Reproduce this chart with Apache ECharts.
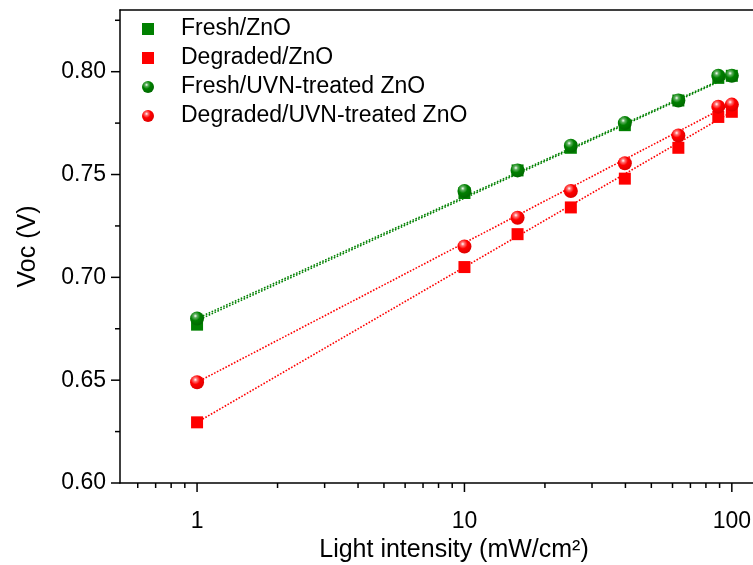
<!DOCTYPE html>
<html>
<head>
<meta charset="utf-8">
<script src="https://cdn.jsdelivr.net/npm/echarts@6/dist/echarts.min.js"></script>
<style>
  html, body { margin: 0; padding: 0; background: #fff; }
  #chart { width: 753px; height: 565px; }
</style>
</head>
<body>
<div id="chart"></div>
<script>
// Light intensity (mW/cm2) and measured open-circuit voltage (V)
const intensity   = [1, 10, 15.8, 25, 39.8, 63.1, 89, 100];
const freshZnO    = [0.677, 0.741, 0.752, 0.763, 0.774, 0.786, 0.797, 0.798];
const degradedZnO = [0.6295, 0.705, 0.721, 0.734, 0.748, 0.763, 0.778, 0.7805];
const freshUVN    = [0.680, 0.742, 0.752, 0.764, 0.775, 0.786, 0.798, 0.798];
const degradedUVN = [0.649, 0.715, 0.729, 0.742, 0.7555, 0.769, 0.783, 0.784];

// Linear fits (Voc vs log intensity): values at the two ends of the fitted range
const fitRange       = [1, 100];
const fitFreshZnO    = [0.679, 0.798];
const fitDegradedZnO = [0.6295, 0.7805];
const fitFreshUVN    = [0.680, 0.7985];
const fitDegradedUVN = [0.649, 0.7845];

const seriesNames = ['Fresh/ZnO', 'Degraded/ZnO', 'Fresh/UVN-treated ZnO', 'Degraded/UVN-treated ZnO'];

// Axis ticks
const xMajorTicks = [1, 10, 100];
const xMinorTicks = [0.6, 0.7, 0.8, 0.9, 2, 3, 4, 5, 6, 7, 8, 9, 20, 30, 40, 50, 60, 70, 80, 90];
const yMajorTicks = [0.60, 0.65, 0.70, 0.75, 0.80];
const yMinorTicks = [0.625, 0.675, 0.725, 0.775, 0.825];

const X_MIN = 0.515, X_MAX = 120;
const Y_MIN = 0.60, Y_MAX = 0.83;

const GREEN = '#008000';
const RED = '#ff0000';
const FONT = 'Liberation Sans, Arial, sans-serif';

function pairs(xs, ys) { return xs.map((x, i) => [x, ys[i]]); }

function sphere(base, light, dark) {
  return {
    type: 'radial', x: 0.38, y: 0.32, r: 0.75,
    colorStops: [
      { offset: 0, color: '#ffffff' },
      { offset: 0.18, color: light },
      { offset: 0.45, color: base },
      { offset: 1, color: dark }
    ]
  };
}

function fitLine(name, values, color) {
  return {
    name: name, type: 'line', symbol: 'none', silent: true,
    xAxisIndex: 0,
    data: pairs(fitRange, values),
    lineStyle: { color: color, width: 1.6, type: [1.6, 1.6] },
    z: 1
  };
}

const tickStyle = { stroke: '#000', lineWidth: 1.5 };
const axisLineStyle = { color: '#000', width: 1.5 };

const chart = echarts.init(document.getElementById('chart'), null, { renderer: 'canvas' });

chart.setOption({
  animation: false,
  backgroundColor: '#fff',
  grid: {
    left: 120, top: 10, right: 0, bottom: 82, show: false,
    containLabel: false, outerBoundsMode: 'none'
  },
  legend: {
    orient: 'vertical', left: 142, top: 17, padding: 0,
    itemWidth: 56, itemHeight: 12, itemGap: 5,
    textStyle: { fontFamily: FONT, fontSize: 23, color: '#000', lineHeight: 24 },
    data: [
      { name: seriesNames[0], icon: 'path://M0,0h10v10h-10z' },
      { name: seriesNames[1], icon: 'path://M0,0h10v10h-10z' },
      { name: seriesNames[2], icon: 'circle' },
      { name: seriesNames[3], icon: 'circle' }
    ]
  },
  xAxis: [
    {
      type: 'log', logBase: 10, min: X_MIN, max: X_MAX, position: 'bottom',
      name: 'Light intensity (mW/cm\u00B2)',
      nameLocation: 'middle', nameGap: 51,
      nameTextStyle: { fontFamily: FONT, fontSize: 25, color: '#000', padding: [0, 0, 0, 35] },
      axisLine: { show: true, lineStyle: axisLineStyle },
      axisTick: { show: false },
      minorTick: { show: false },
      splitLine: { show: false },
      axisLabel: {
        margin: 27, fontFamily: FONT, fontSize: 23, color: '#000',
        showMinLabel: false, showMaxLabel: false,
        formatter: function (v) {
          const e = Math.log10(v);
          return Math.abs(e - Math.round(e)) < 1e-6 ? String(Math.round(v)) : '';
        }
      }
    },
    {
      // frame line along the top of the plot
      type: 'value', min: 0, max: 1, position: 'top',
      axisLine: { show: true, onZero: false, lineStyle: axisLineStyle },
      axisTick: { show: false }, axisLabel: { show: false }, splitLine: { show: false }
    }
  ],
  yAxis: {
    type: 'value', min: Y_MIN, max: Y_MAX, interval: 0.05,
    name: 'Voc (V)', nameLocation: 'middle', nameGap: 79,
    nameTextStyle: { fontFamily: FONT, fontSize: 25, color: '#000' },
    axisLine: { show: true, lineStyle: axisLineStyle },
    axisTick: { show: false },
    splitLine: { show: false },
    axisLabel: {
      margin: 14, fontFamily: FONT, fontSize: 23, color: '#000',
      formatter: function (v) {
        return Math.abs(v * 20 - Math.round(v * 20)) < 1e-6 ? v.toFixed(2) : '';
      }
    }
  },
  series: [
    fitLine('fit-fresh-zno', fitFreshZnO, GREEN),
    fitLine('fit-fresh-uvn', fitFreshUVN, GREEN),
    fitLine('fit-degraded-zno', fitDegradedZnO, RED),
    fitLine('fit-degraded-uvn', fitDegradedUVN, RED),
    {
      name: seriesNames[0], type: 'scatter', symbol: 'rect', symbolSize: 12,
      data: pairs(intensity, freshZnO), itemStyle: { color: GREEN, opacity: 1 }, z: 3
    },
    {
      name: seriesNames[1], type: 'scatter', symbol: 'rect', symbolSize: 12,
      data: pairs(intensity, degradedZnO), itemStyle: { color: RED, opacity: 1 }, z: 3
    },
    {
      name: seriesNames[2], type: 'scatter', symbol: 'circle', symbolSize: 14,
      data: pairs(intensity, freshUVN), itemStyle: { color: sphere(GREEN, '#5fb05f', '#006400'), opacity: 1 }, z: 4
    },
    {
      name: seriesNames[3], type: 'scatter', symbol: 'circle', symbolSize: 14,
      data: pairs(intensity, degradedUVN), itemStyle: { color: sphere(RED, '#ff7070', '#d80000'), opacity: 1 }, z: 4
    },
    // ticks on the bottom axis (pointing outward)
    {
      type: 'custom', coordinateSystem: 'cartesian2d', clip: false, silent: true, z: 6,
      data: xMajorTicks.map(v => [v, Y_MIN, 1]).concat(xMinorTicks.map(v => [v, Y_MIN, 0])),
      renderItem: function (params, api) {
        const p = api.coord([api.value(0), api.value(1)]);
        const len = api.value(2) ? 9 : 5;
        return { type: 'line', shape: { x1: p[0], y1: p[1], x2: p[0], y2: p[1] + len }, style: tickStyle };
      }
    },
    // ticks on the left axis (pointing outward)
    {
      type: 'custom', coordinateSystem: 'cartesian2d', clip: false, silent: true, z: 6,
      data: yMajorTicks.map(v => [X_MIN, v, 1]).concat(yMinorTicks.map(v => [X_MIN, v, 0])),
      renderItem: function (params, api) {
        const p = api.coord([api.value(0), api.value(1)]);
        const len = api.value(2) ? 9 : 5;
        return { type: 'line', shape: { x1: p[0] - len, y1: p[1], x2: p[0], y2: p[1] }, style: tickStyle };
      }
    }
  ]
});
</script>
</body>
</html>
